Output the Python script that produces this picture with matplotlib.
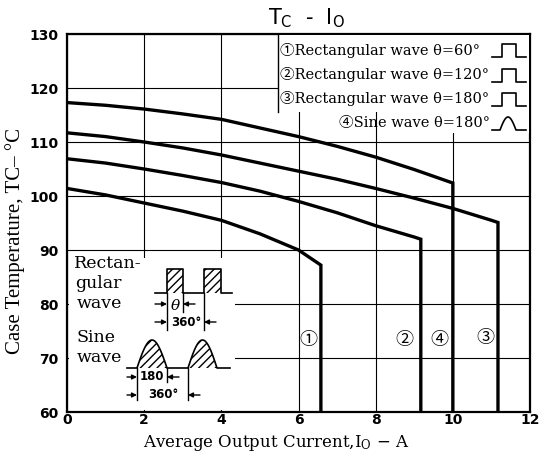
import matplotlib
matplotlib.use('Agg')
import matplotlib.pyplot as plt
from matplotlib.patches import Polygon
import numpy as np

plt.rcParams['mathtext.default'] = 'regular'

# ---------------- data ----------------
c1_x = [0, 1, 2, 3, 4, 5, 6, 6.58, 6.58]
c1_y = [101.4, 100.2, 98.7, 97.2, 95.5, 93.0, 90.0, 87.2, 60]
c2_x = [0, 1, 2, 3, 4, 5, 6, 7, 8, 9, 9.17, 9.17]
c2_y = [106.9, 106.1, 105.0, 103.8, 102.5, 100.9, 99.0, 96.9, 94.5, 92.4, 92.0, 60]
c3_x = [0, 1, 2, 3, 4, 5, 6, 7, 8, 9, 10, 11, 11.17, 11.17]
c3_y = [111.7, 111.0, 110.0, 108.9, 107.6, 106.1, 104.6, 103.1, 101.4, 99.6, 97.7, 95.5, 95.1, 60]
c4_x = [0, 1, 2, 3, 4, 5, 6, 7, 8, 9, 10, 10]
c4_y = [117.3, 116.8, 116.1, 115.2, 114.2, 112.6, 111.0, 109.2, 107.2, 104.9, 102.4, 60]

x_ticks = [0, 2, 4, 6, 8, 10, 12]
y_ticks = [60, 70, 80, 90, 100, 110, 120, 130]

legend_labels = ["①Rectangular wave θ=60°",
                 "②Rectangular wave θ=120°",
                 "③Rectangular wave θ=180°",
                 "④Sine wave θ=180°"]
curve_tags = ["①", "②", "④", "③"]

title = "T$_C$  -  I$_O$"
xlabel = "Average Output Current,I$_O$ − A"
ylabel = "Case Temperature, TC– °C"

# ---------------- figure ----------------
W, H = 543, 454
fig = plt.figure(figsize=(W / 100, H / 100), dpi=100)
L, R, T, B = 67, 530, 34, 412
ax = fig.add_axes([L / W, 1 - B / H, (R - L) / W, (B - T) / H])

for xs, ys in [(c1_x, c1_y), (c2_x, c2_y), (c3_x, c3_y), (c4_x, c4_y)]:
    ax.plot(xs, ys, color='black', lw=2.4, solid_joinstyle='miter', zorder=3)

ax.set_xlim(0, 12)
ax.set_ylim(60, 130)
ax.set_xticks(x_ticks)
ax.set_yticks(y_ticks)
ax.grid(True, color='black', lw=0.8)
ax.tick_params(length=0, labelsize=10, pad=1)
ax.tick_params(axis='y', pad=6)
for lab in ax.get_xticklabels() + ax.get_yticklabels():
    lab.set_fontweight('bold')
for s in ax.spines.values():
    s.set_linewidth(1.6)

ax.set_title(title, fontsize=15, x=0.518, y=1.0, pad=7)
ax.set_xlabel(xlabel, family='DejaVu Serif', fontsize=12)
ax.xaxis.set_label_coords(0.451, -0.056)
ax.set_ylabel(ylabel, family='Liberation Serif', fontsize=15)
ax.yaxis.set_label_coords(-0.091, 0.452)

# ---------------- overlay in pixel coordinates ----------------
ov = fig.add_axes([0, 0, 1, 1])
ov.set_xlim(0, W)
ov.set_ylim(H, 0)
ov.axis('off')
ov.patch.set_alpha(0)

serif = ['DejaVu Serif', 'Noto Sans CJK JP']

# legend panel
ov.add_patch(Polygon([(278, 35), (529, 35), (529, 133), (395, 133), (395, 112), (278, 112)],
                     closed=True, facecolor='white', edgecolor='none', zorder=1))
ov.plot([278, 278], [34, 112], color='black', lw=1.0, zorder=2)
rows_y = [50, 75, 99, 123]
for i, (lab, yy) in enumerate(zip(legend_labels, rows_y)):
    if i < 3:
        ov.text(280, yy, lab, family=serif, fontsize=10.5, ha='left', va='center', zorder=3)
        bx = [492, 502, 502, 516, 516, 526]
        by = [yy + 7, yy + 7, yy - 6, yy - 6, yy + 7, yy + 7]
        ov.plot(bx, by, color='black', lw=1.2, zorder=3)
    else:
        ov.text(490, yy, lab, family=serif, fontsize=10.5, ha='right', va='center', zorder=3)
        t = np.linspace(0, 1, 30)
        hx = np.concatenate([[492], 500 + 16 * t, [526]])
        hy = np.concatenate([[yy + 7], yy + 7 - 13 * np.sin(np.pi * t), [yy + 7]])
        ov.plot(hx, hy, color='black', lw=1.2, zorder=3)

# inset panel
ov.add_patch(Polygon([(69, 258), (235, 258), (235, 410), (69, 410)], closed=True,
                     facecolor='white', edgecolor='none', zorder=1))
ov.text(74, 264, "Rectan-", family=serif, fontsize=12.5, ha='left', va='center', zorder=3)
ov.text(75, 284, "gular", family=serif, fontsize=12.5, ha='left', va='center', zorder=3)
ov.text(77, 303, "wave", family=serif, fontsize=12.5, ha='left', va='center', zorder=3)
ov.text(76, 338, "Sine", family=serif, fontsize=12.5, ha='left', va='center', zorder=3)
ov.text(77, 357, "wave", family=serif, fontsize=12.5, ha='left', va='center', zorder=3)

# rectangular waveform
ov.plot([155, 167, 167, 183, 183, 204, 204, 221, 221, 232],
        [293, 293, 269, 269, 293, 293, 269, 269, 293, 293], color='black', lw=1.2, zorder=3)
for x0, x1 in [(167, 183), (204, 221)]:
    ov.add_patch(Polygon([(x0, 293), (x0, 269), (x1, 269), (x1, 293)], closed=True,
                         facecolor='none', edgecolor='black', hatch='////', lw=0, zorder=2))
ov.plot([167, 167], [293, 330], color='black', lw=1.0, zorder=3)
ov.plot([183, 183], [293, 312], color='black', lw=1.0, zorder=3)
ov.plot([204, 204], [293, 330], color='black', lw=1.0, zorder=3)
ap = dict(arrowstyle='-|>', lw=1.0, color='black', mutation_scale=7, shrinkA=0, shrinkB=0)
ov.annotate('', xy=(167, 304), xytext=(155, 304), arrowprops=ap, zorder=3)
ov.annotate('', xy=(183, 304), xytext=(195, 304), arrowprops=ap, zorder=3)
ov.text(175, 306, "θ", family=serif, style='italic', fontsize=11, ha='center', va='center', zorder=3)
ov.annotate('', xy=(167, 322), xytext=(155, 322), arrowprops=ap, zorder=3)
ov.annotate('', xy=(204, 322), xytext=(216, 322), arrowprops=ap, zorder=3)
ov.text(186, 322, "360°", fontsize=8.5, fontweight='bold', ha='center', va='center', zorder=3)

# sine waveform
t = np.linspace(0, 1, 40)
for x0, x1 in [(137, 167), (188, 217)]:
    hx = x0 + (x1 - x0) * t
    hy = 368 - 28 * np.sin(np.pi * t)
    ov.add_patch(Polygon(np.column_stack([hx, hy]), closed=True, facecolor='none',
                         edgecolor='black', hatch='////', lw=0, zorder=2))
sx = np.concatenate([[127], 137 + 30 * t, 188 + 29 * t, [230]])
sy = np.concatenate([[368], 368 - 28 * np.sin(np.pi * t), 368 - 28 * np.sin(np.pi * t), [368]])
ov.plot(sx, sy, color='black', lw=1.2, zorder=3)
ov.plot([137, 137], [368, 400], color='black', lw=1.0, zorder=3)
ov.plot([167, 167], [368, 382], color='black', lw=1.0, zorder=3)
ov.plot([188, 188], [368, 400], color='black', lw=1.0, zorder=3)
ov.annotate('', xy=(137, 377), xytext=(127, 377), arrowprops=ap, zorder=3)
ov.annotate('', xy=(167, 377), xytext=(179, 377), arrowprops=ap, zorder=3)
ov.text(152, 377, "180", fontsize=8.5, fontweight='bold', ha='center', va='center', zorder=3)
ov.annotate('', xy=(137, 395), xytext=(127, 395), arrowprops=ap, zorder=3)
ov.annotate('', xy=(188, 395), xytext=(200, 395), arrowprops=ap, zorder=3)
ov.text(163, 395, "360°", fontsize=8.5, fontweight='bold', ha='center', va='center', zorder=3)

# curve tags
for tag, (tx, ty) in zip(curve_tags, [(308, 340), (404, 340), (439, 340), (485, 338)]):
    ov.text(tx, ty, tag, family=['Noto Sans CJK JP', 'DejaVu Sans'], fontsize=13,
            ha='center', va='center', zorder=3)

fig.savefig('out.png', dpi=100)
